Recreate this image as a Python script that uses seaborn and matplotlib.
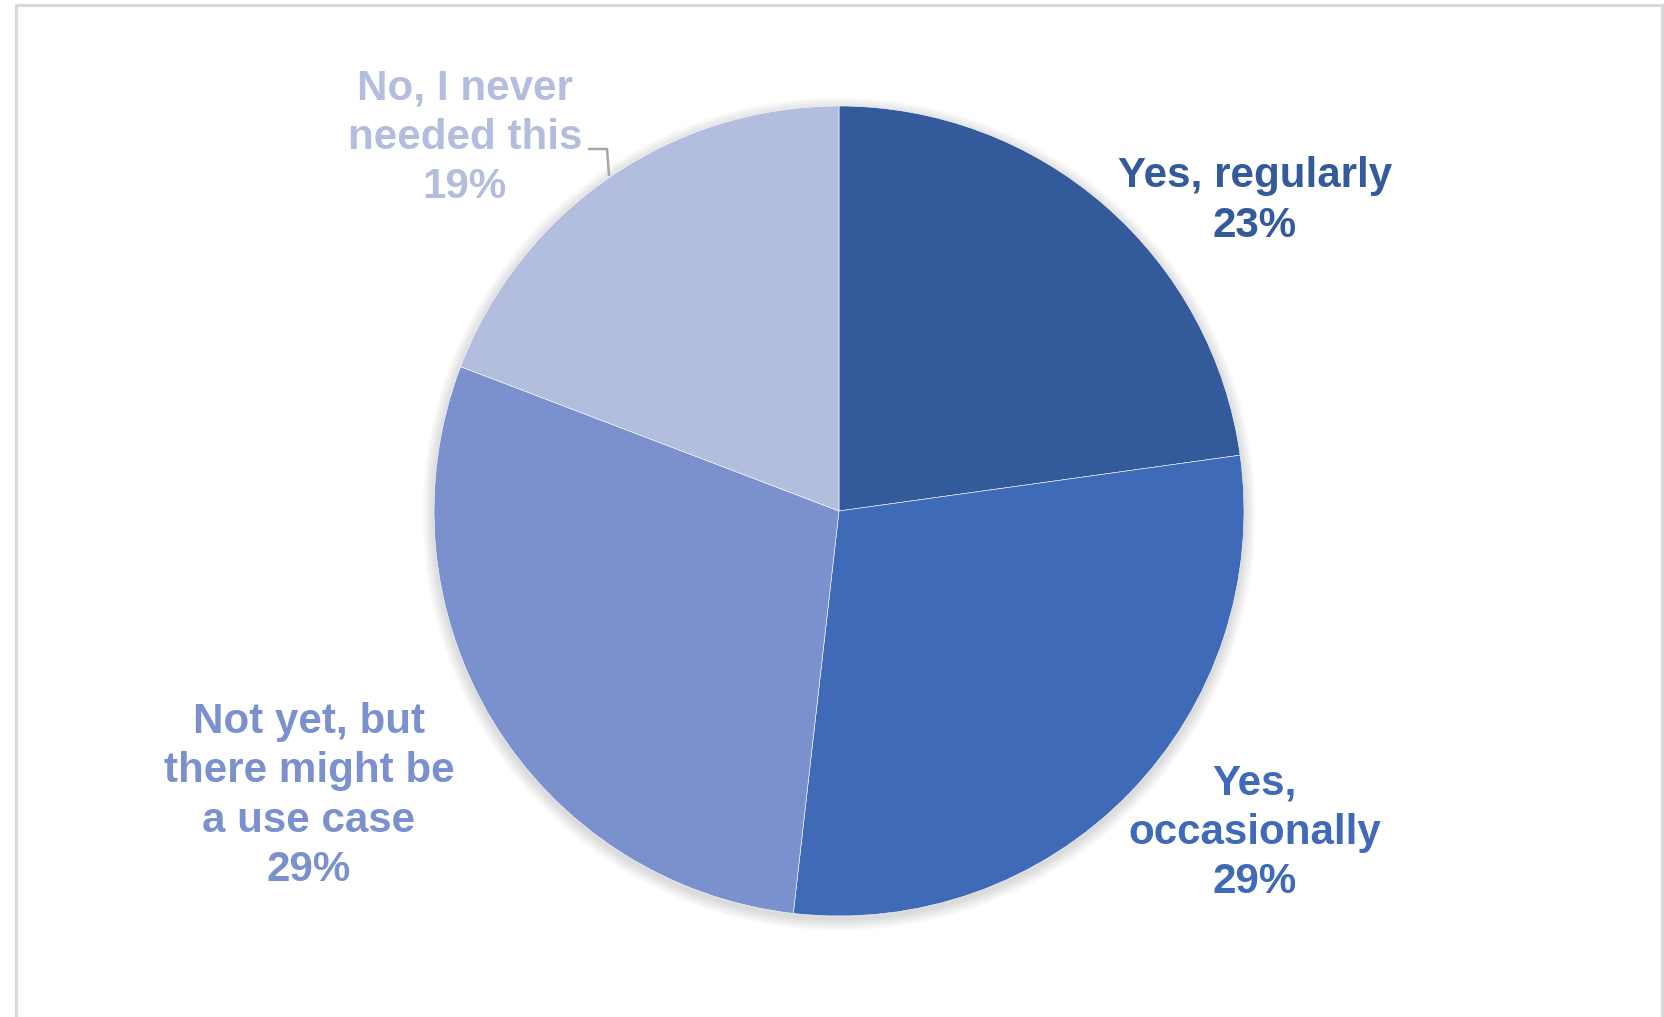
import matplotlib
matplotlib.use("Agg")
import matplotlib.pyplot as plt
import seaborn as sns
from matplotlib.patches import Circle, Rectangle

sns.set_theme(style="white")
plt.rcParams['font.family'] = ['Liberation Sans', 'DejaVu Sans']

categories = ["Yes, regularly", "Yes,\noccasionally", "Not yet, but\nthere might be\na use case", "No, I never\nneeded this"]
values = [22.8, 29.0, 29.0, 19.2]
colors = ["#335A9A", "#3F6AB7", "#7A91CE", "#B3BEDE"]

W, H = 1665, 1017
fig = plt.figure(figsize=(W / 100, H / 100), dpi=100)
ax = fig.add_axes([0, 0, 1, 1])
ax.set_xlim(0, W)
ax.set_ylim(0, H)
ax.set_aspect('equal')
ax.axis('off')

cx, cy, r = 839, H - 511, 405

# soft shadow
for k in range(12):
    ax.add_patch(Circle((cx, cy - 3), r + 12 - k, color='black', alpha=0.012, lw=0, zorder=1))

ax.pie(values, colors=colors, startangle=90, counterclock=False, center=(cx, cy), radius=r,
       wedgeprops=dict(edgecolor='white', linewidth=0.4, zorder=2), frame=True)
ax.set_xlim(0, W)
ax.set_ylim(0, H)
ax.axis('off')

label_pos = [(1255, 201), (1255, 833), (309, 796), (465, 138)]
for lab, v, col, (x, y) in zip(categories, values, colors, label_pos):
    ax.text(x, H - y, f"{lab}\n{v:.0f}%", color=col, fontsize=30.3, fontweight='bold',
            ha='center', va='center', linespacing=1.3, zorder=5)

# leader line for the last label
ax.plot([589, 607, 609], [H - 149, H - 149, H - 175], color='#A6A6A6', lw=1.8, zorder=4)

# chart border
ax.add_patch(Rectangle((16, -20), 1646, H - 5 + 20, fill=False, edgecolor='#D9D9D9', lw=2.2, zorder=6))

fig.savefig("out.png", dpi=100, facecolor='white')
